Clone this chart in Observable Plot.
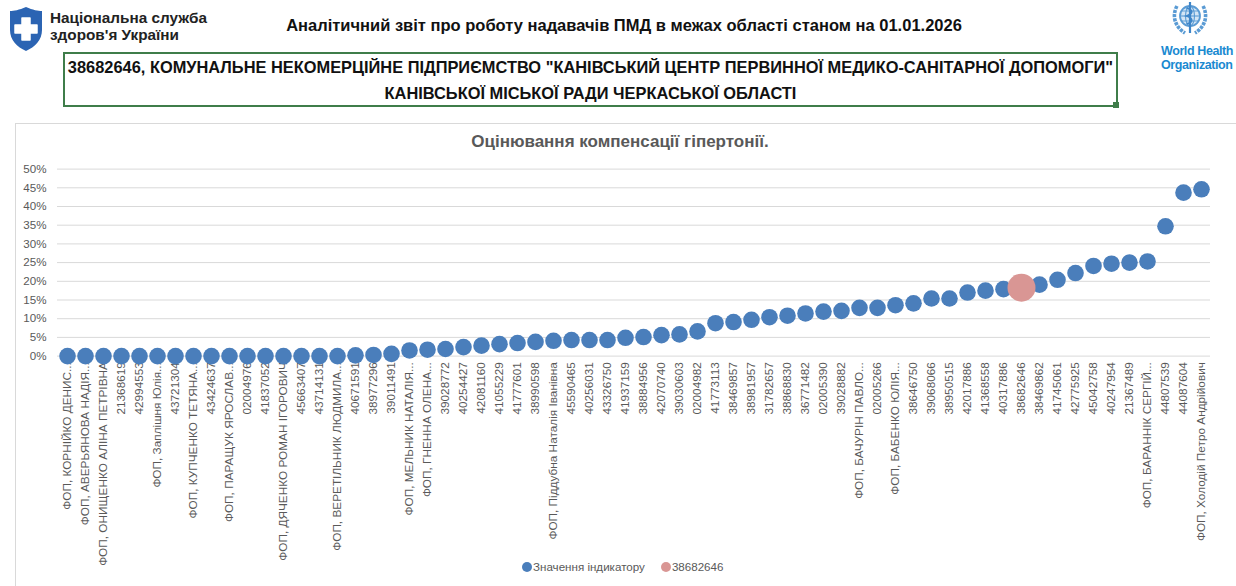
<!DOCTYPE html>
<html>
<head>
<meta charset="utf-8">
<script src="https://cdn.jsdelivr.net/npm/d3@7"></script>
<script src="https://cdn.jsdelivr.net/npm/@observablehq/plot@0.6"></script>
<style>
  html, body { margin: 0; padding: 0; background: #fff; width: 1236px; height: 586px; overflow: hidden; font-family: "Liberation Sans", Arial, sans-serif; }
  .abs { position: absolute; }
  #nhsu-text { left: 50px; top: 9px; font: bold 15.3px/17px "Liberation Sans", Arial, sans-serif; color: #222; }
  #report-title { left: 0; width: 1248px; top: 16px; text-align: center; font: bold 16.5px "Liberation Sans", Arial, sans-serif; color: #111; white-space: nowrap; }
  #box { left: 63px; top: 52px; width: 1051px; height: 51px; border: 2px solid #3f7d4a; }
  #box-l1 { left: 63px; width: 1055px; top: 58px; text-align: center; font: bold 16.4px "Liberation Sans", Arial, sans-serif; color: #111; white-space: nowrap; }
  #box-l2 { left: 63px; width: 1055px; top: 84px; text-align: center; font: bold 16.4px "Liberation Sans", Arial, sans-serif; color: #111; }
  #corner { left: 1113px; top: 102px; width: 6px; height: 6px; background: #3f7d4a; }
  #who-text { left: 1161px; top: 44px; font: bold 12.5px/14px "Liberation Sans Narrow", "Arial Narrow", "Liberation Sans", sans-serif; color: #1a8ad1; letter-spacing: -0.4px; }
  #chart-frame { left: 15px; top: 123px; width: 1240px; height: 480px; border-left: 1px solid #d9d9d9; border-top: 1px solid #d9d9d9; }
  #chart-title { left: 0; width: 1240px; top: 132px; text-align: center; font: bold 17px "Liberation Sans", Arial, sans-serif; color: #595959; }
  #plot { left: 0; top: 123px; }
  #legend { top: 560px; left: 522px; font: 11.6px "Liberation Sans", Arial, sans-serif; color: #595959; display: flex; align-items: center; }
  .sw { display: inline-block; width: 10px; height: 10px; border-radius: 50%; margin-right: 1px; }
</style>
</head>
<body>
<svg class="abs" style="left:8px;top:6px" width="36" height="46" viewBox="0 0 36 46">
  <path d="M18 1 C 11 4, 6 5, 2 5 L 2 24 C 2 34, 9 41, 18 45 C 27 41, 34 34, 34 24 L 34 5 C 30 5, 25 4, 18 1 Z" fill="#2b64b3"/>
  <path d="M14 12 h8 v7 h7 v8 h-7 v7 h-8 v-7 h-7 v-8 h7 Z" fill="#fff" stroke="#fff" stroke-linejoin="round" stroke-width="1.5"/>
</svg>
<div id="nhsu-text" class="abs">Національна служба<br>здоров'я України</div>
<div id="report-title" class="abs">Аналітичний звіт про роботу надавачів ПМД в межах області станом на 01.01.2026</div>
<div id="box" class="abs"></div>
<div id="corner" class="abs"></div>
<div id="box-l1" class="abs">38682646, КОМУНАЛЬНЕ НЕКОМЕРЦІЙНЕ ПІДПРИЄМСТВО "КАНІВСЬКИЙ ЦЕНТР ПЕРВИННОЇ МЕДИКО-САНІТАРНОЇ ДОПОМОГИ"</div>
<div id="box-l2" class="abs">КАНІВСЬКОЇ МІСЬКОЇ РАДИ ЧЕРКАСЬКОЇ ОБЛАСТІ</div>
<svg class="abs" style="left:1172px;top:1px" width="36" height="34" viewBox="0 0 36 34">
  <circle cx="18" cy="15" r="10" fill="#d3e5f5" stroke="#5a9bd4" stroke-width="1.8"/>
  <ellipse cx="18" cy="15" rx="4.5" ry="10" fill="none" stroke="#5a9bd4" stroke-width="1.1"/>
  <line x1="8" y1="15" x2="28" y2="15" stroke="#5a9bd4" stroke-width="1.1"/>
  <line x1="9.5" y1="10" x2="26.5" y2="10" stroke="#5a9bd4" stroke-width="0.9"/>
  <line x1="9.5" y1="20" x2="26.5" y2="20" stroke="#5a9bd4" stroke-width="0.9"/>
  <path d="M5 5 C 0 14, 2 25, 13 32 M31 5 C 36 14, 34 25, 23 32" fill="none" stroke="#5a9bd4" stroke-width="3.6" stroke-dasharray="3.2 1"/>
  <line x1="18" y1="1" x2="18" y2="32" stroke="#3f86c9" stroke-width="2.2"/>
  <path d="M14.5 7 C 21.5 9, 21.5 12.5, 14.5 15 C 21.5 17.5, 21.5 21, 14.5 23" fill="none" stroke="#3f86c9" stroke-width="1.8"/>
</svg>
<div id="who-text" class="abs">World Health<br>Organization</div>
<div id="chart-frame" class="abs"></div>
<div id="chart-title" class="abs">Оцінювання компенсації гіпертонії.</div>
<div id="plot" class="abs"></div>
<div id="legend" class="abs">
  <span class="sw" style="background:#4a7ebb"></span><span>Значення індикатору</span>
  <span class="sw" style="background:#d99694;margin-left:16px"></span><span>38682646</span>
</div>
<script>
// Categories (providers), in the order shown on the x axis
const labels = [
  "ФОП, КОРНІЙКО ДЕНИС...", "ФОП, АВЕРЬЯНОВА НАДІЯ...", "ФОП, ОНИЩЕНКО АЛІНА ПЕТРІВНА", "21368619", "42994553",
  "ФОП, Заплішня Юлія...", "43721304", "ФОП, КУПЧЕНКО ТЕТЯНА...", "43424637", "ФОП, ПАРАЩУК ЯРОСЛАВ...",
  "02004976", "41837052", "ФОП, ДЯЧЕНКО РОМАН ІГОРОВИЧ", "45663407", "43714131",
  "ФОП, ВЕРЕТІЛЬНИК ЛЮДМИЛА...", "40671591", "38977296", "39011491", "ФОП, МЕЛЬНИК НАТАЛІЯ...",
  "ФОП, ГНЕННА ОЛЕНА...", "39028772", "40254427", "42081160", "41055229",
  "41777601", "38990598", "ФОП, Піддубна Наталія Іванівна", "45590465", "40256031",
  "43326750", "41937159", "38884956", "42070740", "39030603",
  "02004982", "41773113", "38469857", "38981957", "31782657",
  "38868830", "36771482", "02005390", "39028882", "ФОП, БАЧУРІН ПАВЛО...",
  "02005266", "ФОП, БАБЕНКО ЮЛІЯ...", "38646750", "39068066", "38950515",
  "42017886", "41368558", "40317886", "38682646", "38469862",
  "41745061", "42775925", "45042758", "40247954", "21367489",
  "ФОП, БАРАННІК СЕРГІЙ...", "44807539", "44087604", "ФОП, Холодій Петро Андрійович"
];
// Indicator values (share)
const values = [
  0, 0, 0, 0, 0,
  0, 0, 0, 0, 0,
  0, 0, 0, 0, 0,
  0, 0.002, 0.003, 0.006, 0.015,
  0.017, 0.019, 0.024, 0.028, 0.032,
  0.035, 0.038, 0.041, 0.043, 0.043,
  0.043, 0.049, 0.051, 0.056, 0.058,
  0.066, 0.088, 0.091, 0.097, 0.104,
  0.108, 0.114, 0.119, 0.121, 0.129,
  0.129, 0.136, 0.141, 0.154, 0.154,
  0.170, 0.175, 0.179, 0.183, 0.191,
  0.204, 0.222, 0.241, 0.247, 0.250,
  0.253, 0.347, 0.437, 0.446
];
const highlightCode = "38682646";
const yTicks = [0, 0.05, 0.10, 0.15, 0.20, 0.25, 0.30, 0.35, 0.40, 0.45, 0.50];

const data = labels.map((label, i) => ({label, value: values[i], hl: label === highlightCode}));

const chart = Plot.plot({
  width: 1236,
  height: 440,
  marginLeft: 57,
  marginRight: 26,
  marginTop: 45.6,
  marginBottom: 207.4,
  style: {background: "transparent", color: "#595959", fontFamily: "'Liberation Sans', Arial, sans-serif", fontSize: "11.6px", overflow: "visible"},
  x: {type: "point", domain: labels, padding: 0.5, label: null},
  y: {domain: [0, 0.5], label: null},
  marks: [
    Plot.gridY(yTicks, {stroke: "#d9d9d9", strokeOpacity: 1, strokeWidth: 1}),
    Plot.axisY(yTicks, {tickSize: 0, tickPadding: 11, tickFormat: d3.format(".0%"), label: null, fontSize: 11.6}),
    Plot.axisX({tickSize: 0, tickPadding: 6, tickRotate: -90, label: null, fontSize: 11.8}),
    Plot.dot(data.filter(d => !d.hl), {x: "label", y: "value", r: 8.3, fill: "#4a7ebb"}),
    Plot.dot(data.filter(d => d.hl), {x: "label", y: "value", r: 14, fill: "#d99694"})
  ]
});
document.getElementById("plot").appendChild(chart);
</script>
</body>
</html>
